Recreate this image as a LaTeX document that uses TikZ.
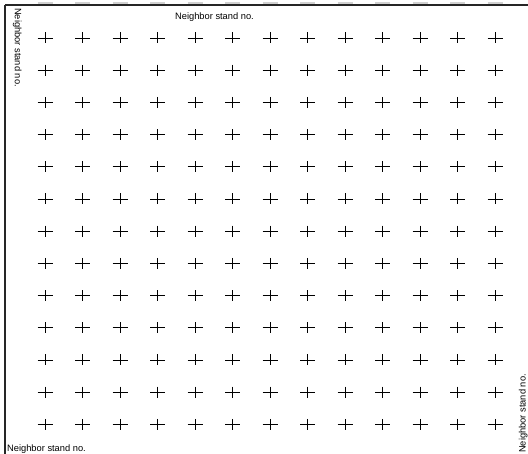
\documentclass[tikz,border=0pt]{standalone}
\usepackage{fontspec}
\setmainfont{Liberation Sans}
\begin{document}
\begin{tikzpicture}[x=1pt,y=-1pt,
  lbl/.style={inner sep=0pt, font=\fontsize{9.3}{11}\selectfont},
  crossmark/.style={line width=0.85pt, black},
  topdash/.style={line width=1.5pt, black!18},
  frameline/.style={black!85}]
\useasboundingbox (0,0) rectangle (528,454);
\clip (0,0) rectangle (528,454);
\foreach \i in {0,...,12} {
  \draw[topdash] ({45+37.5*\i-7.5},3) -- ++(15,0);
}
\coordinate (tl) at (5,5);
\coordinate (tr) at (528,5);
\coordinate (bl) at (5,454);
\draw[frameline, line width=1.5pt] (tl) -- (tr);
\draw[frameline, line width=2pt] (tl) -- (bl);
\foreach \i in {0,...,12} \foreach \j in {0,...,12} {
  \draw[crossmark] ({45+37.5*\i-7.5},{38+32.2*\j}) -- ++(15,0);
  \draw[crossmark] ({45+37.5*\i},{38+32.2*\j-5.5}) -- ++(0,11);
}
\node[lbl, anchor=base] (toplabel) at (214.5,20) {Neighbor stand no.};
\node[lbl, anchor=base west] (bottomlabel) at (7,451.5) {Neighbor stand no.};
\node[lbl, anchor=base west, rotate=-90] (leftlabel) at (15,8) {Neighbor stand no.};
\node[lbl, anchor=base west, rotate=90] (rightlabel) at (525.5,453) {Neighbor stand no.};
\end{tikzpicture}
\end{document}
